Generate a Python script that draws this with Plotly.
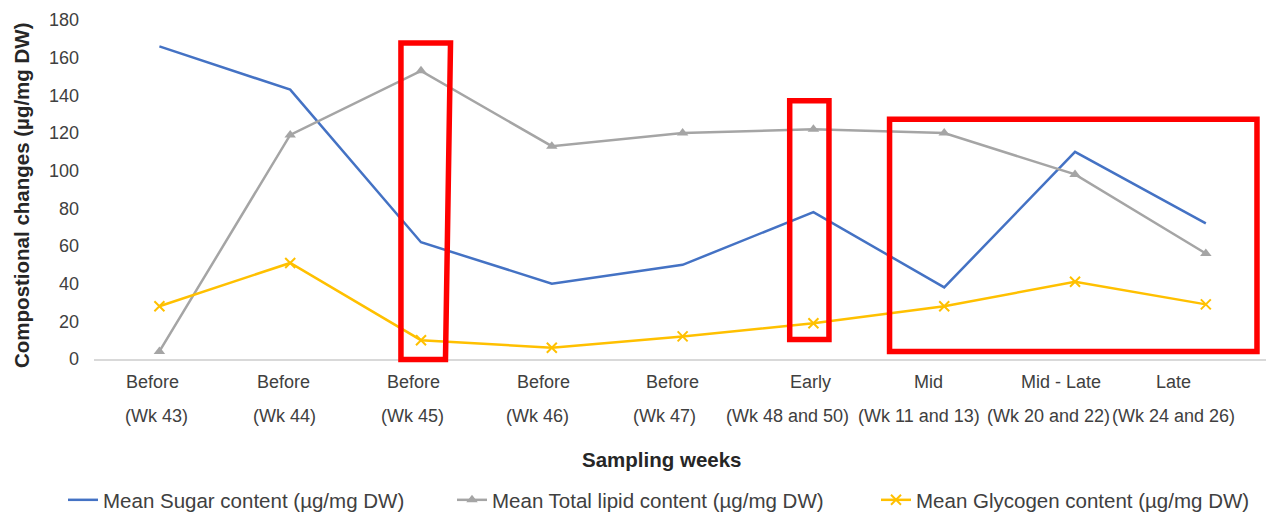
import plotly.graph_objects as go

# Sampling periods (two-line category labels)
stage_labels = ["Before", "Before", "Before", "Before", "Before",
                "Early", "Mid", "Mid - Late", "Late"]
week_labels = ["(Wk 43)", "(Wk 44)", "(Wk 45)", "(Wk 46)", "(Wk 47)",
               "(Wk 48 and 50)", "(Wk 11 and 13)", "(Wk 20 and 22)", "(Wk 24 and 26)"]
categories = [f"{s} {w}" for s, w in zip(stage_labels, week_labels)]

# Mean composition values (µg/mg DW)
sugar = [166, 143, 62, 40, 50, 78, 38, 110, 72]
lipid = [4, 119, 153, 113, 120, 122, 120, 98, 56]
glycogen = [28, 51, 10, 6, 12, 19, 28, 41, 29]

y_ticks = [0, 20, 40, 60, 80, 100, 120, 140, 160, 180]

FONT = "Liberation Sans, Arial, sans-serif"
TEXT = "#404040"
TITLE = "#262626"

fig = go.Figure()
fig.add_trace(go.Scatter(
    x=categories, y=sugar, mode="lines",
    name="Mean Sugar content (µg/mg DW)",
    line=dict(color="#4472C4", width=2.5),
    legend="legend",
))
fig.add_trace(go.Scatter(
    x=categories, y=lipid, mode="lines+markers",
    name="Mean Total lipid content (µg/mg DW)",
    line=dict(color="#A5A5A5", width=2.5),
    marker=dict(symbol="triangle-up", size=10, color="#A5A5A5"),
    legend="legend2",
))
fig.add_trace(go.Scatter(
    x=categories, y=glycogen, mode="lines+markers",
    name="Mean Glycogen content (µg/mg DW)",
    line=dict(color="#FFC000", width=2.5),
    marker=dict(symbol="x-thin", size=10, color="#FFC000",
                line=dict(color="#FFC000", width=2)),
    legend="legend3",
))

# Two-line category labels under the axis
shift_top = [-7, -7, -8, -8, -10, -3, -16, -14, -32]
shift_bottom = [-3, -6, -9, -14, -18, -26, -25, -27, -32]
annotations = []
for i, (s, w) in enumerate(zip(stage_labels, week_labels)):
    annotations.append(dict(x=i, xref="x", y=-0.0676, yref="paper",
                            text=s, showarrow=False, xshift=shift_top[i],
                            yanchor="middle", xanchor="center",
                            font=dict(family=FONT, size=18, color=TEXT)))
    annotations.append(dict(x=i, xref="x", y=-0.1676, yref="paper",
                            text=w, showarrow=False, xshift=shift_bottom[i],
                            yanchor="middle", xanchor="center",
                            font=dict(family=FONT, size=18, color=TEXT)))

# Axis titles
annotations.append(dict(x=(662 - 94) / 1172, xref="paper", y=-0.297, yref="paper",
                        text="<b>Sampling weeks</b>", showarrow=False,
                        xanchor="center", yanchor="middle",
                        font=dict(family=FONT, size=20.5, color=TITLE)))
annotations.append(dict(x=-0.0614, xref="paper", y=0.484, yref="paper",
                        text="<b>Compostional changes (µg/mg DW)</b>",
                        showarrow=False, textangle=-90,
                        xanchor="center", yanchor="middle",
                        font=dict(family=FONT, size=20.5, color=TITLE)))

# Highlight boxes
RED = "#FF0000"
shapes = [
    dict(type="path", xref="paper", yref="paper",
         path="M0.2619,0.9324 L0.3042,0.9324 L0.2999,-0.0015 L0.2619,-0.0015 Z",
         line=dict(color=RED, width=5.5)),
    dict(type="rect", xref="paper", yref="paper",
         x0=0.5936, x1=0.6271, y0=0.0574, y1=0.7618,
         line=dict(color=RED, width=5.5)),
    dict(type="rect", xref="paper", yref="paper",
         x0=0.6788, x1=0.9923, y0=0.0221, y1=0.7074,
         line=dict(color=RED, width=5.5)),
]

legend_common = dict(orientation="h", yanchor="middle", y=-0.4147,
                     xanchor="left", bgcolor="rgba(0,0,0,0)",
                     font=dict(family=FONT, size=20.5, color=TEXT))

fig.update_layout(
    width=1266, height=520,
    margin=dict(l=94, r=0, t=20, b=160),
    paper_bgcolor="white", plot_bgcolor="white",
    showlegend=True,
    legend=dict(x=(63 - 94) / 1172, **legend_common),
    legend2=dict(x=(452 - 94) / 1172, **legend_common),
    legend3=dict(x=(876 - 94) / 1172, **legend_common),
    xaxis=dict(type="category", range=[-0.5, 8.46], showticklabels=False,
               showgrid=False, zeroline=False, showline=True,
               linecolor="#D9D9D9", linewidth=1.5, ticks=""),
    yaxis=dict(range=[0, 180], tickvals=y_ticks, showgrid=False,
               zeroline=False, showline=False, ticks="",
               ticklabelstandoff=14,
               tickfont=dict(family=FONT, size=18, color=TEXT)),
    annotations=annotations,
    shapes=shapes,
)

fig.write_html("out.html")
